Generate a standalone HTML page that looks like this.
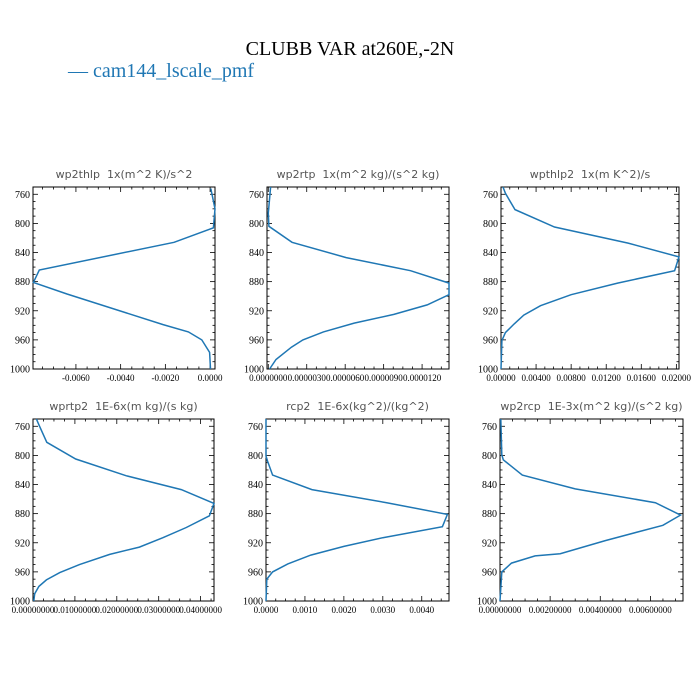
<!DOCTYPE html>
<html><head><meta charset="utf-8"><style>
html,body{margin:0;padding:0;background:#fff;}
svg{display:block;}
</style></head><body>
<svg id="fig" width="700" height="700" viewBox="0 0 700 700" xmlns="http://www.w3.org/2000/svg">
<rect width="700" height="700" fill="#fff"/>
<text x="350" y="55" text-anchor="middle" font-family="Liberation Serif, serif" font-size="20" fill="#000">CLUBB VAR at260E,-2N</text>
<g>
<text x="68" y="77" font-family="Liberation Serif, serif" font-size="20" fill="#1f77b4">— cam144_lscale_pmf</text>
</g>
</svg>
<script>
const p1P=[752,780,806,826,864,881,897,939,949,960,977,1000];
const p1X=[0.00003,0.00022,0.00015,-0.00161,-0.00764,-0.0079,-0.0064,-0.0021,-0.00097,-0.00037,-0.00002,0.00002];
const p2P=[750,786,804,826,847,865,882,898,912,925,937,949,960,970,987,1000];
const p2X=[0.18e-6,0,0.05e-6,1.85e-6,6.08e-6,11.1e-6,14.1e-6,14.1e-6,12.4e-6,9.8e-6,6.7e-6,4.3e-6,2.7e-6,1.8e-6,0.6e-6,0.1e-6];
const p3P=[750,758.6,781,805,827,846,865,882,898,913,926,938,950,961,1000];
const p3X=[0.00023,0.0005,0.0016,0.0061,0.0145,0.0203,0.0198,0.0133,0.0080,0.0045,0.0026,0.0015,0.0005,0.0001,0];
const p4P=[750,758,782,805,828,847,866,883,899,913,926,936,950,961,971,980,990,1000];
const p4X=[0.0008,0.0014,0.0033,0.0102,0.0223,0.0354,0.0432,0.0421,0.0366,0.0310,0.0254,0.0183,0.0111,0.0064,0.0032,0.0014,0.0004,0.0002];
const p5P=[750,801,808,827,847,865,881,898,913,925,937,949,960,970,1000];
const p5X=[0,0,0.00004,0.00017,0.00118,0.0031,0.00466,0.00453,0.0030,0.0020,0.00115,0.00056,0.00017,0.00002,0];
const p6P=[750,799,806,827,846,865,882,896,917,935,938,948,960,1000];
const p6X=[0.00003,0.00007,0.00013,0.00089,0.0030,0.0062,0.0072,0.0065,0.0042,0.0024,0.0014,0.00046,0.00007,0];
const yTicks=[760,800,840,880,920,960,1000];
const t1=["-0.0060","-0.0040","-0.0020","0.0000"], v1=[-0.006,-0.004,-0.002,0];
const t2=["0.0000000","0.0000030","0.0000060","0.0000090","0.0000120"], v2=[0,3e-6,6e-6,9e-6,12e-6];
const t3=["0.00000","0.00400","0.00800","0.01200","0.01600","0.02000"], v3=[0,0.004,0.008,0.012,0.016,0.02];
const t4=["0.00000000","0.01000000","0.02000000","0.03000000","0.04000000"], v4=[0,0.01,0.02,0.03,0.04];
const t5=["0.0000","0.0010","0.0020","0.0030","0.0040"], v5=[0,0.001,0.002,0.003,0.004];
const t6=["0.00000000","0.00200000","0.00400000","0.00600000"], v6=[0,0.002,0.004,0.006];

const NS="http://www.w3.org/2000/svg";
const svg=document.getElementById('fig');
function mk(tag,attrs,parent){const e=document.createElementNS(NS,tag);for(const k in attrs)e.setAttribute(k,attrs[k]);(parent||svg).appendChild(e);return e;}
const panels=[
 {name:'wp2thlp',title:'wp2thlp  1x(m^2 K)/s^2',L:33,R:215,T:187,B:369,xmin:-0.00792,xmax:0.00022,P:p1P,X:p1X,tl:t1,tv:v1,ls:9},
 {name:'wp2rtp',title:'wp2rtp  1x(m^2 kg)/(s^2 kg)',L:267,R:449,T:187,B:369,xmin:-0.1e-6,xmax:14.1e-6,P:p2P,X:p2X,tl:t2,tv:v2,ls:9},
 {name:'wpthlp2',title:'wpthlp2  1x(m K^2)/s',L:501,R:679,T:187,B:369,xmin:0,xmax:0.0203,P:p3P,X:p3X,tl:t3,tv:v3,ls:9},
 {name:'wprtp2',title:'wprtp2  1E-6x(m kg)/(s kg)',L:33,R:214,T:419,B:601,xmin:0,xmax:0.0432,P:p4P,X:p4X,tl:t4,tv:v4,ls:9},
 {name:'rcp2',title:'rcp2  1E-6x(kg^2)/(kg^2)',L:266,R:449,T:419,B:601,xmin:0,xmax:0.0047,P:p5P,X:p5X,tl:t5,tv:v5,ls:9},
 {name:'wp2rcp',title:'wp2rcp  1E-3x(m^2 kg)/(s^2 kg)',L:500,R:683,T:419,B:601,xmin:0,xmax:0.0073,P:p6P,X:p6X,tl:t6,tv:v6,ls:9}
];
panels.forEach(p=>{
 const g=mk('g',{});
 
 
 const xs=v=>p.L+(v-p.xmin)/(p.xmax-p.xmin)*(p.R-p.L);
 const ys=v=>p.T+(v-750)/250*(p.B-p.T);
 const t=mk('text',{x:(p.L+p.R)/2,y:p.T-9,'text-anchor':'middle','font-family':'DejaVu Sans, sans-serif','font-size':11,fill:'#555','xml:space':'preserve'},g);
 t.textContent=p.title.replace('  ','\u00a0\u00a0');
 
 
 // y ticks
 for(let v=750;v<=1000;v+=10){
  const y=ys(v), maj=(v%40===0&&v>=760);
  const len=maj?5:2.5;
  mk('line',{x1:p.L,x2:p.L+len,y1:y,y2:y,stroke:'#000','stroke-width':0.8},g);
  mk('line',{x1:p.R,x2:p.R-len,y1:y,y2:y,stroke:'#000','stroke-width':0.8},g);
 }
 yTicks.forEach(v=>{
  const tx=mk('text',{x:p.L-3,y:ys(v)+3.5,'text-anchor':'end','font-family':'Liberation Serif, serif','font-size':10,fill:'#000'},g);
  tx.textContent=v;
  
  
 });
 // x ticks
 const step=p.tv[1]-p.tv[0];
 for(let k=-40;k<=80;k++){
  const v=p.tv[0]+k*step/4;
  if(v<p.xmin-1e-12||v>p.xmax+1e-12)continue;
  const x=xs(v),maj=(k%4===0);const len=maj?5:2.5;
  mk('line',{x1:x,x2:x,y1:p.B,y2:p.B-len,stroke:'#000','stroke-width':0.8},g);
  mk('line',{x1:x,x2:x,y1:p.T,y2:p.T+len,stroke:'#000','stroke-width':0.8},g);
 }
 p.tv.forEach((v,i)=>{
  const tx=mk('text',{x:xs(v),y:p.B+12,'text-anchor':'middle','font-family':'Liberation Serif, serif','font-size':p.ls,fill:'#000'},g);
  tx.textContent=p.tl[i];
  
  
 });
 const fr=mk('rect',{x:p.L,y:p.T,width:p.R-p.L,height:p.B-p.T,fill:'none',stroke:'#000','stroke-width':1},g);
 
 
 const pts=p.P.map((pv,i)=>xs(p.X[i]).toFixed(1)+','+ys(pv).toFixed(1)).join(' ');
 const ln=mk('polyline',{points:pts,fill:'none',stroke:'#1f77b4','stroke-width':1.5},g);
 
 
});
</script>
</body></html>
